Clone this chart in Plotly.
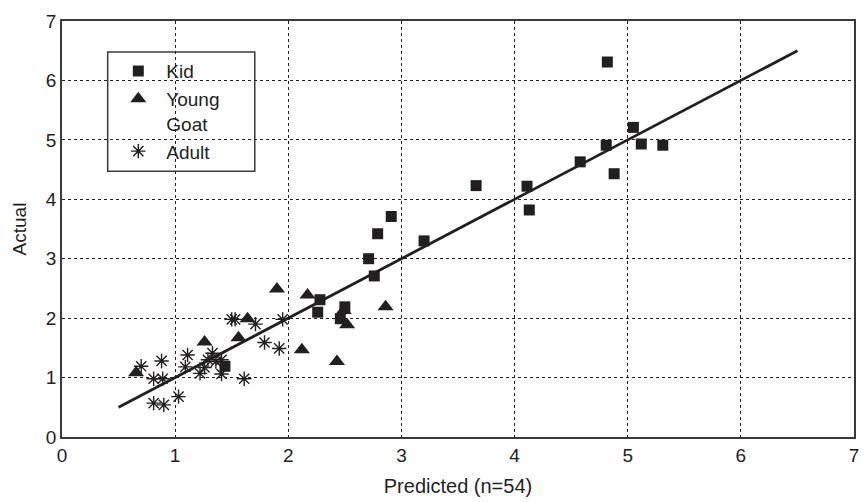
import plotly.graph_objects as go

# Kid
kid_x = [4.82, 5.05, 4.81, 5.12, 5.31, 4.58, 4.88, 3.66, 4.11, 4.13,
         2.91, 2.79, 3.20, 2.71, 2.76, 2.28, 2.26, 2.50, 2.46, 1.44]
kid_y = [6.31, 5.21, 4.91, 4.93, 4.91, 4.63, 4.43, 4.23, 4.22, 3.82,
         3.71, 3.42, 3.30, 3.00, 2.71, 2.31, 2.10, 2.19, 1.99, 1.19]

# Young goat
young_x = [0.655, 1.26, 1.56, 1.64, 1.90, 2.17, 2.12, 2.43, 2.86, 2.52, 2.49]
young_y = [1.08, 1.60, 1.67, 1.99, 2.49, 2.39, 1.47, 1.27, 2.19, 1.89, 2.13]

# Adult
adult_x = [0.70, 0.88, 0.81, 0.89, 0.81, 0.90, 1.03, 1.11, 1.09, 1.22, 1.26, 1.29,
           1.33, 1.36, 1.41, 1.41, 1.61, 1.50, 1.53, 1.71, 1.79, 1.92, 1.95]
adult_y = [1.19, 1.28, 0.98, 0.98, 0.57, 0.54, 0.68, 1.38, 1.18, 1.07, 1.17, 1.30,
           1.41, 1.27, 1.30, 1.06, 0.98, 1.98, 1.98, 1.90, 1.59, 1.49, 1.98]

# Fitted line
fit_x = [0.5, 6.5]
fit_y = [0.5, 6.5]

INK = "#231f20"
FRAME = "#3a3a3a"
FONT = "Liberation Sans, Arial, sans-serif"

fig = go.Figure()
fig.add_trace(go.Scatter(
    x=fit_x, y=fit_y, mode="lines", line=dict(color=INK, width=2.8),
    showlegend=False, hoverinfo="skip"))
fig.add_trace(go.Scatter(
    x=kid_x, y=kid_y, mode="markers", name="Kid",
    marker=dict(symbol="square", size=11, color=INK)))
fig.add_trace(go.Scatter(
    x=young_x, y=young_y, mode="markers", name="Young<br>Goat",
    marker=dict(symbol="triangle-up", size=14, color=INK)))
fig.add_trace(go.Scatter(
    x=adult_x, y=adult_y, mode="markers", name="Adult",
    marker=dict(symbol="asterisk-open", size=12, color=INK,
                line=dict(color=INK, width=1.4))))

axis_common = dict(
    range=[0, 7], dtick=1, tick0=0,
    showgrid=True, gridcolor=INK, gridwidth=1, griddash="dot",
    zeroline=False, showline=True, mirror=True,
    linecolor=FRAME, linewidth=1.5,
    ticks="", tickfont=dict(family=FONT, size=19, color=INK),
)

# Framed white panel behind the legend entries
fig.add_shape(
    type="rect", xref="paper", yref="paper",
    x0=0.0577, x1=0.2434, y0=0.639, y1=0.9255,
    fillcolor="white", line=dict(color=FRAME, width=1.5), layer="between")

fig.update_layout(
    width=866, height=502,
    margin=dict(l=62, r=7, t=21, b=65),
    paper_bgcolor="white", plot_bgcolor="white",
    font=dict(family=FONT, color=INK),
    xaxis=dict(axis_common,
               title=dict(text="Predicted (n=54)", standoff=14,
                          font=dict(family=FONT, size=20, color=INK))),
    yaxis=dict(axis_common,
               title=dict(text="Actual", standoff=14,
                          font=dict(family=FONT, size=19, color=INK))),
    legend=dict(
        x=0.061, y=0.925, xanchor="left", yanchor="top",
        bgcolor="rgba(0,0,0,0)", borderwidth=0,
        font=dict(family=FONT, size=19, color=INK),
        itemwidth=46, valign="top",
    ),
)

fig.write_html("out.html")
